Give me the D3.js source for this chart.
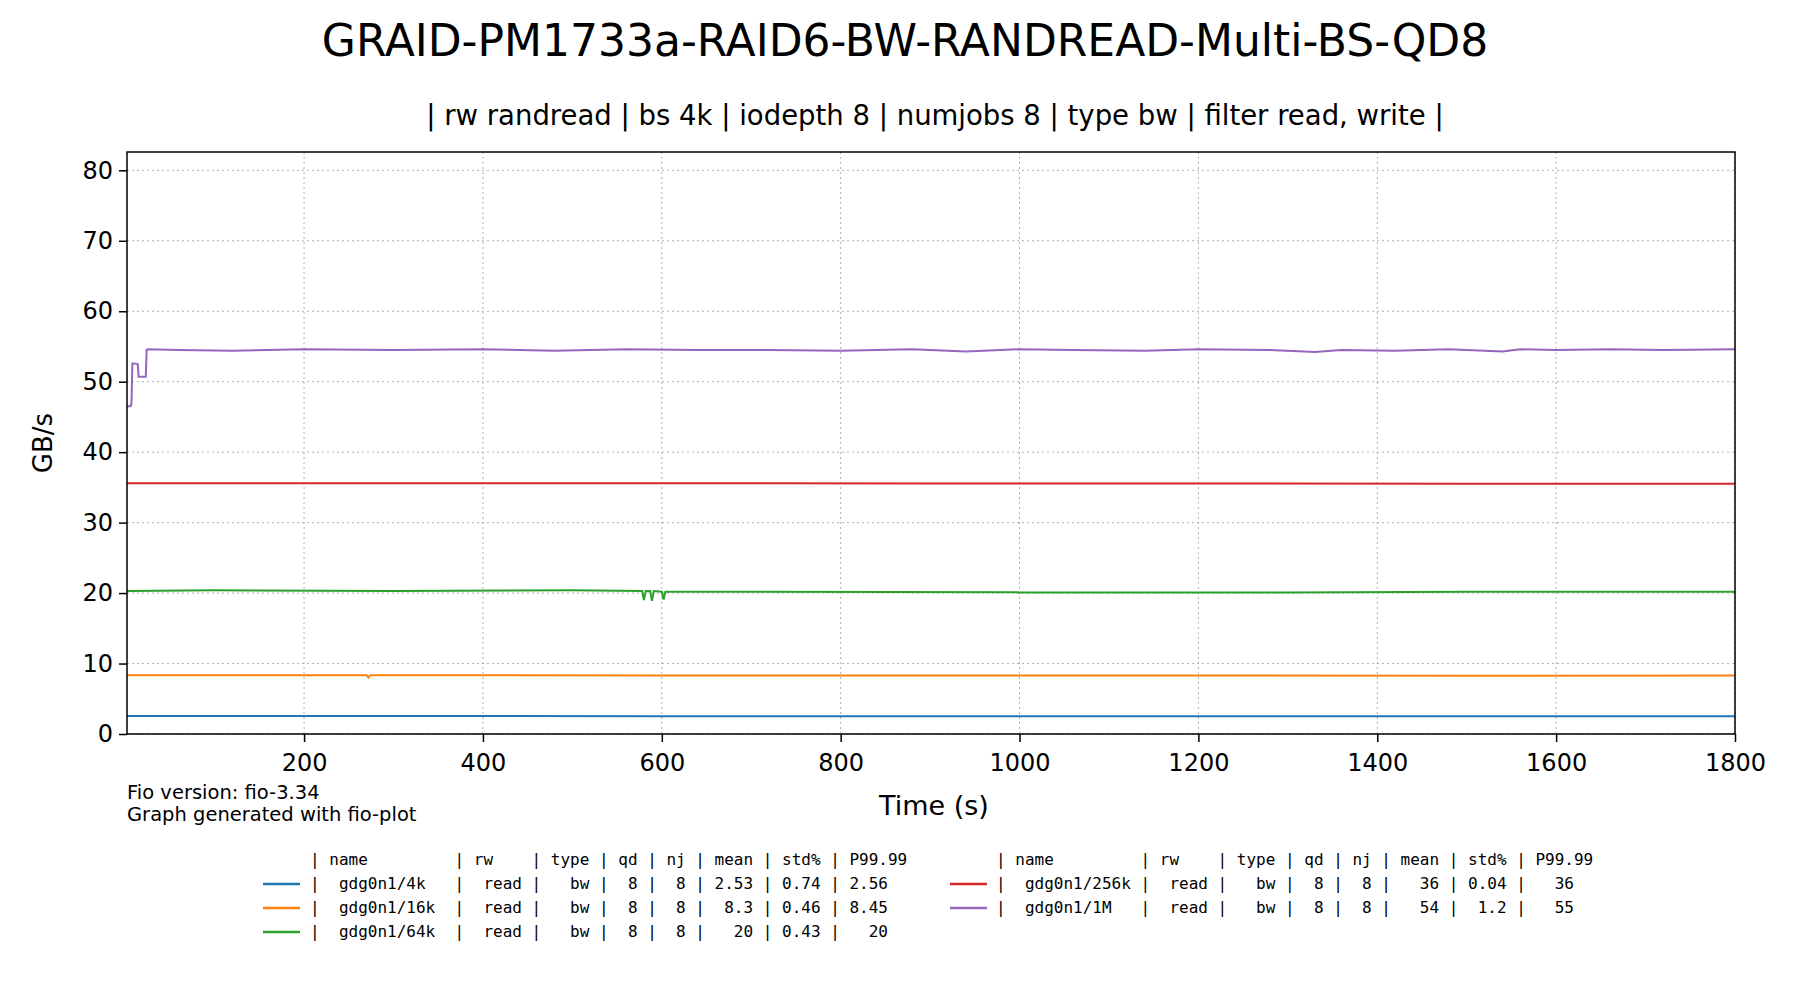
<!DOCTYPE html>
<html>
<head>
<meta charset="utf-8">
<script src="https://cdn.jsdelivr.net/npm/d3@7"></script>
<style>
  body { margin: 0; background: #fff; }
  text { font-family: "DejaVu Sans", sans-serif; }
  .mono { font-family: "DejaVu Sans Mono", monospace; white-space: pre; }
</style>
</head>
<body>
<div class="container"></div>
<script>
// time (s) and GB/s samples
const names = ['gdg0n1/4k', 'gdg0n1/16k', 'gdg0n1/64k', 'gdg0n1/256k', 'gdg0n1/1M'];
const colors = ['#1f77b4', '#ff7f0e', '#2ca02c', '#d62728', '#9467bd'];

const t4k = [2, 300, 600, 900, 1200, 1500, 1800];
const v4k = [2.55, 2.56, 2.53, 2.52, 2.53, 2.52, 2.53];

const t16k = [2, 270, 272, 274, 600, 900, 1200, 1500, 1800];
const v16k = [8.35, 8.35, 8.0, 8.35, 8.3, 8.3, 8.3, 8.28, 8.3];

const t64k = [2, 100, 300, 500, 578, 580, 582, 587, 589, 591, 600, 602, 604, 700, 1000, 1300, 1500, 1800];
const v64k = [20.3, 20.4, 20.3, 20.4, 20.3, 19.0, 20.3, 20.3, 18.9, 20.3, 20.2, 19.1, 20.2, 20.2, 20.1, 20.1, 20.2, 20.2];

const t256k = [2, 300, 600, 900, 1200, 1500, 1800];
const v256k = [35.6, 35.6, 35.6, 35.55, 35.55, 35.5, 35.5];

const t1M = [2, 6, 7, 8, 9, 14, 15, 23, 24, 25, 60, 120, 200, 300, 400, 480, 560, 640, 720, 800, 880, 940, 1000, 1060, 1140, 1200, 1280, 1330, 1360, 1420, 1480, 1540, 1560, 1600, 1660, 1720, 1800];
const v1M = [46.5, 46.5, 46.9, 52.6, 52.6, 52.5, 50.7, 50.7, 54.5, 54.6, 54.5, 54.4, 54.6, 54.5, 54.6, 54.4, 54.6, 54.5, 54.5, 54.4, 54.6, 54.3, 54.6, 54.5, 54.4, 54.6, 54.5, 54.2, 54.5, 54.4, 54.6, 54.3, 54.6, 54.5, 54.6, 54.5, 54.6];

const xTicks = [200, 400, 600, 800, 1000, 1200, 1400, 1600, 1800];
const yTicks = [0, 10, 20, 30, 40, 50, 60, 70, 80];

const legendHeader = '| name         | rw    | type | qd | nj | mean | std% | P99.99';
const legendRows = [
    '|  gdg0n1/4k   |  read |   bw |  8 |  8 | 2.53 | 0.74 | 2.56',
    '|  gdg0n1/16k  |  read |   bw |  8 |  8 |  8.3 | 0.46 | 8.45',
    '|  gdg0n1/64k  |  read |   bw |  8 |  8 |   20 | 0.43 |   20',
    '|  gdg0n1/256k |  read |   bw |  8 |  8 |   36 | 0.04 |   36',
    '|  gdg0n1/1M   |  read |   bw |  8 |  8 |   54 |  1.2 |   55'
];

const series = [[t4k, v4k], [t16k, v16k], [t64k, v64k], [t256k, v256k], [t1M, v1M]];

const w = 1800;
const h = 1000;
const margin = { top: 152, right: 65, bottom: 266, left: 127 };

const svg = d3.select('.container')
    .append('svg')
    .attr('width', w)
    .attr('height', h);

const x = d3.scaleLinear([2, 1800], [margin.left, w - margin.right]);
const y = d3.scaleLinear([0, 82.6], [h - margin.bottom, margin.top]);

svg.append('text')
    .attr('x', 905).attr('y', 56)
    .attr('text-anchor', 'middle')
    .style('font-size', '44px')
    .text('GRAID-PM1733a-RAID6-BW-RANDREAD-Multi-BS-QD8');

svg.append('text')
    .attr('x', 935).attr('y', 125)
    .attr('text-anchor', 'middle')
    .style('font-size', '27.5px')
    .text('| rw randread | bs 4k | iodepth 8 | numjobs 8 | type bw | filter read, write |');

// grid
svg.append('g')
    .selectAll('line.gx')
    .data(xTicks)
    .join('line')
    .attr('x1', d => x(d)).attr('x2', d => x(d))
    .attr('y1', margin.top).attr('y2', h - margin.bottom)
    .attr('stroke', '#b0b0b0').attr('stroke-dasharray', '2,3');
svg.append('g')
    .selectAll('line.gy')
    .data(yTicks)
    .join('line')
    .attr('x1', margin.left).attr('x2', w - margin.right)
    .attr('y1', d => y(d)).attr('y2', d => y(d))
    .attr('stroke', '#b0b0b0').attr('stroke-dasharray', '2,3');

// lines
const line = d3.line().x(d => x(d[0])).y(d => y(d[1]));
series.forEach((s, i) => {
    svg.append('path')
        .datum(s[0].map((t, j) => [t, s[1][j]]))
        .attr('fill', 'none')
        .attr('stroke', colors[i])
        .attr('stroke-width', 2)
        .attr('d', line);
});

// axes
const xAxis = svg.append('g')
    .attr('transform', `translate(0,${h - margin.bottom})`)
    .call(d3.axisBottom(x).tickValues(xTicks).tickFormat(d3.format('d')).tickSize(8).tickPadding(12));
const yAxis = svg.append('g')
    .attr('transform', `translate(${margin.left},0)`)
    .call(d3.axisLeft(y).tickValues(yTicks).tickSize(8).tickPadding(6));
[xAxis, yAxis].forEach(a => {
    a.selectAll('text').style('font-size', '24px').style('font-family', '"DejaVu Sans", sans-serif').attr('fill', '#000');
    a.selectAll('line').attr('stroke-width', 1.5);
    a.select('.domain').remove();
});

svg.append('rect')
    .attr('x', margin.left).attr('y', margin.top)
    .attr('width', w - margin.left - margin.right)
    .attr('height', h - margin.top - margin.bottom)
    .attr('fill', 'none').attr('stroke', '#000').attr('stroke-width', 1.5);

svg.append('text')
    .attr('x', 934).attr('y', 815)
    .attr('text-anchor', 'middle')
    .style('font-size', '27px')
    .text('Time (s)');

svg.append('text')
    .attr('transform', `translate(52,${(margin.top + h - margin.bottom) / 2}) rotate(-90)`)
    .attr('text-anchor', 'middle')
    .style('font-size', '26px')
    .text('GB/s');

svg.append('text').attr('x', 127).attr('y', 799).style('font-size', '19.5px').text('Fio version: fio-3.34');
svg.append('text').attr('x', 127).attr('y', 821).style('font-size', '19.5px').text('Graph generated with fio-plot');

// legend
const cols = [{ lx: 263, tx: 310, idx: [0, 1, 2] }, { lx: 950, tx: 996, idx: [3, 4] }];
cols.forEach(c => {
    svg.append('text').attr('class', 'mono')
        .attr('x', c.tx).attr('y', 865)
        .style('font-size', '16px')
        .text(legendHeader);
    c.idx.forEach((k, r) => {
        const yy = 884 + r * 24;
        svg.append('line')
            .attr('x1', c.lx).attr('x2', c.lx + 37)
            .attr('y1', yy).attr('y2', yy)
            .attr('stroke', colors[k]).attr('stroke-width', 2.5);
        svg.append('text').attr('class', 'mono')
            .attr('x', c.tx).attr('y', yy + 5)
            .style('font-size', '16px')
            .text(legendRows[k]);
    });
});
</script>
</body>
</html>
